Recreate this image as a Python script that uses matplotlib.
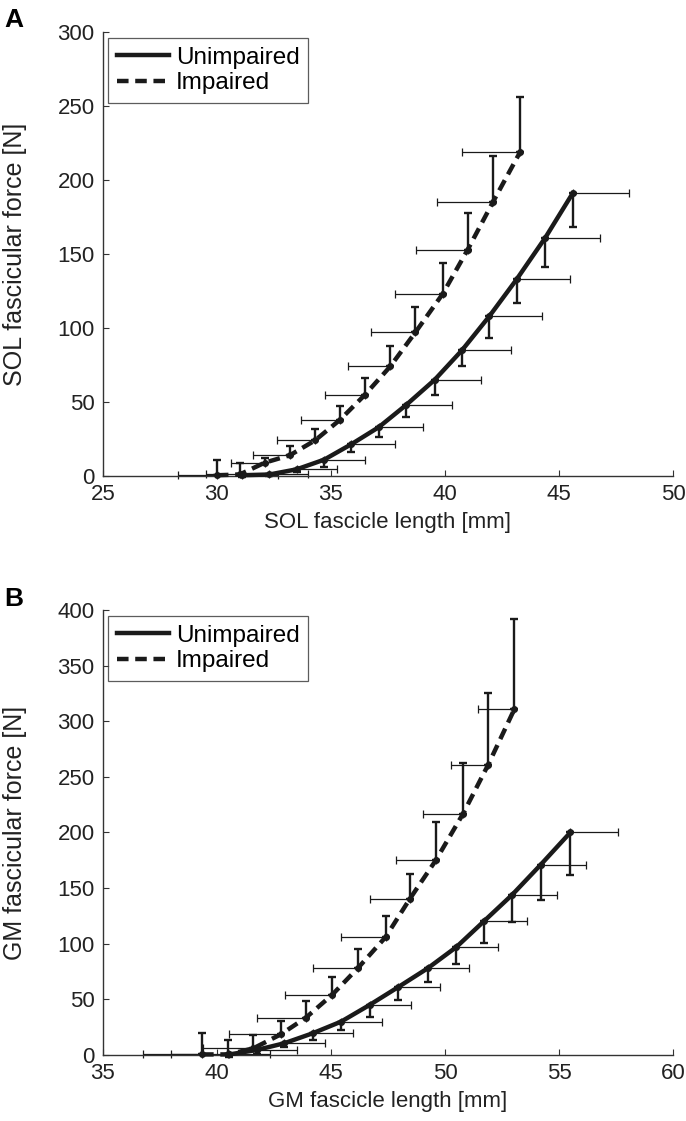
import matplotlib
matplotlib.use("Agg")
import matplotlib.pyplot as plt

plt.rcParams["font.family"] = ["Liberation Sans", "DejaVu Sans"]

# Panel A - soleus
sol_imp_len = [30.0, 31.0, 32.1, 33.2, 34.3, 35.4, 36.5, 37.6, 38.7, 39.9, 41.0, 42.1, 43.3]
sol_imp_force = [0.5, 1, 9, 14, 24, 38, 55, 74, 97, 123, 153, 185, 219]
sol_imp_ferr = [10, 8, 3, 6, 8, 9.5, 11, 14, 17, 21, 25, 31, 37]
sol_imp_lerr = [1.7, 1.5, 1.5, 1.6, 1.65, 1.7, 1.75, 1.85, 1.95, 2.1, 2.25, 2.45, 2.55]

sol_unimp_len = [31.1, 32.3, 33.5, 34.7, 35.9, 37.1, 38.3, 39.55, 40.75, 41.95, 43.15, 44.4, 45.6]
sol_unimp_force = [0.5, 1, 4.5, 11, 21.5, 33, 48, 65, 85, 108, 133, 161, 191]
sol_unimp_ferr = [1, 1, 2, 5, 5.5, 6.7, 8, 10, 11, 14.5, 16, 19.5, 23]
sol_unimp_lerr = [1.6, 1.7, 1.75, 1.8, 1.9, 1.95, 2.0, 2.05, 2.15, 2.3, 2.35, 2.4, 2.45]

# Panel B - gastrocnemius medialis
gm_imp_len = [39.35, 40.5, 41.6, 42.8, 43.9, 45.05, 46.2, 47.4, 48.45, 49.6, 50.8, 51.9, 53.05]
gm_imp_force = [0.5, 0.5, 6, 18.5, 33.5, 54, 78.5, 106, 140, 175, 217, 261, 311]
gm_imp_ferr = [19, 13, 12, 12, 15, 16.5, 16.5, 18.5, 22.5, 34.5, 45.5, 64, 81]
gm_imp_lerr = [2.6, 2.5, 2.2, 2.25, 2.15, 2.05, 2.0, 1.95, 1.75, 1.75, 1.75, 1.65, 1.6]

gm_unimp_len = [40.55, 41.75, 42.95, 44.2, 45.45, 46.7, 47.95, 49.25, 50.5, 51.7, 52.95, 54.2, 55.5]
gm_unimp_force = [0.5, 4.5, 10.5, 19.5, 30, 45, 61, 78, 97, 120, 144, 171, 200]
gm_unimp_ferr = [2, 4, 3.6, 6, 8, 10.5, 12, 12.6, 15.5, 19.5, 24.5, 31.5, 38]
gm_unimp_lerr = [1.8, 1.77, 1.8, 1.75, 1.77, 1.8, 1.84, 1.8, 1.82, 1.92, 1.97, 2.0, 2.08]

INK = "#1a1a1a"
DASH = (0, (2.6, 1.5))


def draw_group(ax, x, y, yerr, xerr, impaired):
    zeros = [0] * len(x)
    if impaired:
        ye, xe = [zeros, yerr], [xerr, zeros]
    else:
        ye, xe = [yerr, zeros], [zeros, xerr]
    # horizontal (length) error bars, thin
    ax.errorbar(x, y, xerr=xe, fmt="none", ecolor=INK, elinewidth=0.9,
                capsize=3, capthick=0.9, clip_on=False, zorder=2)
    # vertical (force) error bars, heavier
    ax.errorbar(x, y, yerr=ye, fmt="none", ecolor=INK, elinewidth=1.7,
                capsize=3, capthick=1.7, clip_on=False, zorder=2)
    ls = DASH if impaired else "-"
    line, = ax.plot(x, y, color=INK, lw=3.2, ls=ls, marker="o", ms=4,
                    clip_on=False, zorder=3)
    return line


def style_axes(ax, xlim, ylim, xticks, yticks, xlabel, ylabel):
    ax.set_xlim(*xlim)
    ax.set_ylim(*ylim)
    ax.set_xticks(xticks)
    ax.set_yticks(yticks)
    ax.spines["top"].set_visible(False)
    ax.spines["right"].set_visible(False)
    for s in ("left", "bottom"):
        ax.spines[s].set_linewidth(1.0)
        ax.spines[s].set_color("#333333")
    ax.tick_params(direction="in", length=4, width=0.8, labelsize=16, pad=6,
                   colors="#333333", labelcolor="#222222")
    ax.set_xlabel(xlabel, fontsize=16, color="#222222", labelpad=5)
    ax.set_ylabel(ylabel, fontsize=18, color="#222222")
    ax.yaxis.set_label_coords(-0.133, 0.5)


fig = plt.figure(figsize=(6.86, 11.21), dpi=100)
axA = fig.add_axes([0.150, 0.5754, 0.831, 0.396])
axB = fig.add_axes([0.150, 0.0589, 0.831, 0.397])

draw_group(axA, sol_unimp_len, sol_unimp_force, sol_unimp_ferr, sol_unimp_lerr, False)
draw_group(axA, sol_imp_len, sol_imp_force, sol_imp_ferr, sol_imp_lerr, True)
style_axes(axA, (25, 50), (0, 300), range(25, 51, 5), range(0, 301, 50),
           "SOL fascicle length [mm]", "SOL fascicular force [N]")

draw_group(axB, gm_unimp_len, gm_unimp_force, gm_unimp_ferr, gm_unimp_lerr, False)
draw_group(axB, gm_imp_len, gm_imp_force, gm_imp_ferr, gm_imp_lerr, True)
style_axes(axB, (35, 60), (0, 400), range(35, 61, 5), range(0, 401, 50),
           "GM fascicle length [mm]", "GM fascicular force [N]")

for ax in (axA, axB):
    handles = [plt.Line2D([], [], color=INK, lw=3.2, ls="-"),
               plt.Line2D([], [], color=INK, lw=3.2, ls=DASH)]
    leg = ax.legend(handles=handles, labels=["Unimpaired", "Impaired"],
                    loc="upper left", bbox_to_anchor=(0.009, 0.986), borderaxespad=0,
                    fontsize=17.5, frameon=True, fancybox=False, handlelength=2.15,
                    handletextpad=0.3, labelspacing=0.15, borderpad=0.35)
    leg.get_frame().set_edgecolor("#333333")
    leg.get_frame().set_linewidth(0.9)

fig.text(0.006, 0.993, "A", fontsize=19, fontweight="bold", va="top")
fig.text(0.006, 0.476, "B", fontsize=19, fontweight="bold", va="top")

fig.savefig("out.png", dpi=100)
